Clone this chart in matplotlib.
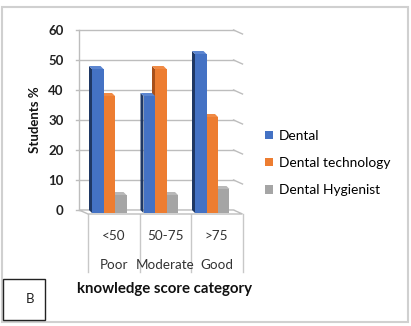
import matplotlib
matplotlib.use("Agg")
import matplotlib.pyplot as plt
from matplotlib.patches import Polygon, Rectangle

plt.rcParams['font.family'] = ['Lato', 'DejaVu Sans']

# ---- data ----
ranges = ["<50", "50-75", ">75"]
levels = ["Poor", "Moderate", "Good"]
series_names = ["Dental", "Dental technology", "Dental Hygienist"]
dental = [48, 39, 53]
dental_tech = [39, 48, 32]
dental_hyg = [6, 6, 8]
y_ticks = [0, 10, 20, 30, 40, 50, 60]

values = [dental, dental_tech, dental_hyg]
front_cols = ["#4472C4", "#ED7D31", "#A5A5A5"]
side_cols = ["#1F3864", "#A8501A", "#7A7A7A"]
top_cols = ["#5B85D0", "#F08A45", "#B8B8B8"]

W, H = 411, 326
fig = plt.figure(figsize=(W / 100, H / 100), dpi=100)

# back wall box in pixels
x0_px, x1_px = 79, 233.5
y0_px, y1_px = 210, 30
ax = fig.add_axes([x0_px / W, 1 - y0_px / H, (x1_px - x0_px) / W, (y0_px - y1_px) / H])
ax.set_xlim(0, 3)
ax.set_ylim(0, 60)

px_x = 3 / (x1_px - x0_px)   # category units per pixel
px_y = 60 / (y0_px - y1_px)  # value units per pixel

for s in ax.spines.values():
    s.set_visible(False)
ax.set_xticks([])
ax.set_yticks(y_ticks)
ax.set_yticklabels([str(t) for t in y_ticks], fontsize=9.5, fontweight='bold', color='#222222')
ax.tick_params(axis='y', length=0, pad=11)

grid_c = "#BDBDBD"
fdx, fdy = 9 * px_x, 4 * px_y   # floor depth
# gridlines on back wall and right wall
for t in y_ticks:
    ax.plot([-3 * px_x, 3], [t, t], color=grid_c, lw=1, clip_on=False, zorder=1)
    if t > 0:
        ax.plot([3, 3 + fdx], [t, t - fdy], color=grid_c, lw=1, clip_on=False, zorder=1)
ax.plot([0, 0], [0, 60], color=grid_c, lw=1, clip_on=False, zorder=1)

# floor
floor = Polygon([(0, 0), (3, 0), (3 + fdx, -fdy), (0 + fdx, -fdy)], closed=True,
                facecolor='white', edgecolor=grid_c, lw=1, clip_on=False, zorder=2)
ax.add_patch(floor)

# category separators below the floor
for c in range(4):
    ax.plot([c + fdx, c + fdx], [-fdy, -fdy - 58 * px_y], color="#C8C8C8", lw=1,
            clip_on=False, zorder=1)

# 3D-style bars
w = 11.5 * px_x
off = 13 * px_x
bdx, bdy = 3 * px_x, 3 * px_y
for i, vals in enumerate(values):
    z = 10 - i
    for c, v in enumerate(vals):
        xf = c + off + i * w
        ax.bar(xf, v, width=w, bottom=-bdy, align='edge', color=front_cols[i],
               lw=0, zorder=z, clip_on=False)
        side = Polygon([(xf, -bdy), (xf, v - bdy), (xf - bdx, v), (xf - bdx, 0)],
                       closed=True, facecolor=side_cols[i], lw=0, zorder=z, clip_on=False)
        top = Polygon([(xf, v - bdy), (xf + w, v - bdy), (xf + w - bdx, v), (xf - bdx, v)],
                      closed=True, facecolor=top_cols[i], lw=0, zorder=z, clip_on=False)
        ax.add_patch(side)
        ax.add_patch(top)

# category labels
for c in range(3):
    ax.text(c + 0.5 + fdx, -(236 - y0_px) * px_y, ranges[c], ha='center', va='center',
            fontsize=9.7, color='#333333', clip_on=False)
    ax.text(c + 0.5 + fdx, -(265 - y0_px) * px_y, levels[c], ha='center', va='center',
            fontsize=9.7, color='#333333', clip_on=False)

fig.text(164 / W, 1 - 289 / H, "knowledge score category", ha='center', va='center',
         fontsize=10.8, fontweight='bold', color='#111111')
fig.text(35 / W, 1 - 120 / H, "Students %", ha='center', va='center', rotation=90,
         fontsize=9.5, fontweight='bold', color='#111111')

# legend
handles = [Rectangle((0, 0), 1, 1, facecolor=col, lw=0) for col in front_cols]
fig.legend(handles, series_names, loc='upper left',
           bbox_to_anchor=(265 / W, 1 - 130 / H), frameon=False, fontsize=9.9,
           handlelength=0.55, handleheight=0.55, handletextpad=0.45, labelspacing=1.1,
           borderpad=0, borderaxespad=0)

# outer frame and panel tag
fig.add_artist(Rectangle((2 / W, 1 - 322 / H), 406 / W, 315 / H, transform=fig.transFigure,
                         fill=False, edgecolor="#D0D0D0", lw=1.5))
fig.add_artist(Rectangle((3 / W, 1 - 320 / H), 42 / W, 41 / H, transform=fig.transFigure,
                         fill=False, edgecolor="#222222", lw=1))
fig.text(30 / W, 1 - 299 / H, "B", ha='center', va='center', fontsize=9.5, color='#222222')

fig.savefig("out.png", dpi=100)
